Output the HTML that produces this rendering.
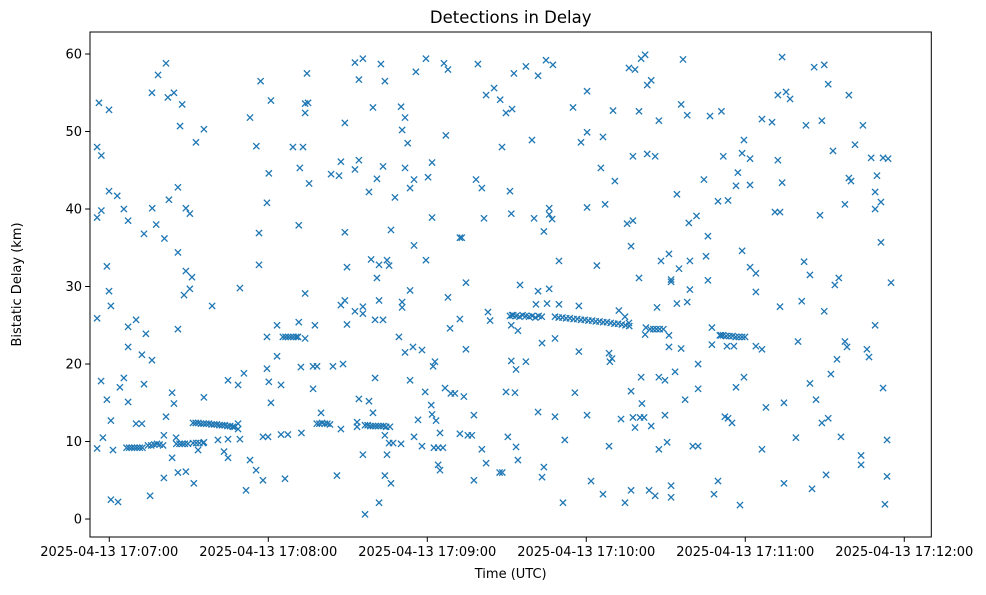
<!DOCTYPE html>
<html><head><meta charset="utf-8"><style>
body{margin:0;background:#fff;font-family:"Liberation Sans","DejaVu Sans",sans-serif}
svg text{font-family:"DejaVu Sans","Liberation Sans",sans-serif;fill:#000}
</style></head><body>
<svg id="chart" width="986" height="590" xmlns="http://www.w3.org/2000/svg">
<rect width="986" height="590" fill="#fff"/>
<text x="510.7" y="23" font-size="16.5" text-anchor="middle">Detections in Delay</text>
<g id="marks"></g>
<rect x="90" y="32" width="841.3" height="505" fill="none" stroke="#000" stroke-width="1"/>
<g id="xaxis"></g>
<g id="yaxis"></g>
<text x="510.7" y="578" font-size="13" text-anchor="middle">Time (UTC)</text>
<text transform="translate(21,284.5) rotate(-90)" font-size="13" text-anchor="middle">Bistatic Delay (km)</text>
</svg>
<script>
// seconds after 2025-04-13 17:07:00
const xTickValues = [0, 60, 120, 180, 240, 300];
const xTickLabels = ["2025-04-13 17:07:00","2025-04-13 17:08:00","2025-04-13 17:09:00","2025-04-13 17:10:00","2025-04-13 17:11:00","2025-04-13 17:12:00"];
const yTickValues = [0, 10, 20, 30, 40, 50, 60];
const times = [
-3.9,-0.1,-4.6,-3.0,21.4,18.4,16.1,22.1,24.4,27.5,26.7,35.7,32.7,57.1,61.0,53.1,55.5,69.3,60.2,71.9,
-0.1,3.0,-3.0,-4.6,5.5,7.1,16.2,17.7,13.1,20.8,22.5,25.9,28.9,30.4,59.5,56.5,71.5,25.9,28.9,31.2,
30.4,28.2,38.8,49.3,56.5,-0.9,-0.1,0.6,-4.6,7.1,10.1,13.8,25.9,7.1,12.3,16.1,-3.1,4.0,5.5,13.1,
-0.9,7.1,23.7,24.4,35.7,44.8,48.6,50.8,59.5,60.2,64.8,63.3,59.5,63.3,71.5,72.3,61.0,0.6,-2.4,-4.6,
1.4,10.1,12.3,21.4,20.6,25.2,23.7,20.6,25.9,28.9,31.9,15.4,0.6,3.3,43.3,44.8,51.6,55.4,58.0,66.3,
53.1,41.0,44.8,49.3,58.0,59.9,64.8,67.4,72.5,33.5,35.7,48.6,48.6,
6.5,7.5,8.5,9.5,10.5,11.5,12.5,14.6,15.8,17,18,19,20.3,25.3,26.5,27.5,28.5,29.7,31.6,32.8,34,35.4,
31.6,32.6,33.6,34.6,35.6,36.6,37.6,38.6,39.6,40.6,41.6,42.6,43.6,44.6,45.6,46.6,47.3,
65.5,66.5,67.5,68.5,69.5,70.5,71.2,
74.6,73.9,75.0,73.9,73.1,75.4,92.7,95.7,94.2,102.5,104.0,99.5,110.1,111.6,110.5,112.6,88.9,115.7,119.5,126.3,
127.8,139.1,142.2,145.2,147.5,149.7,152.0,152.7,148.2,127.0,87.4,94.2,92.7,83.7,86.7,101.0,103.3,111.6,115.0,113.5,
120.3,121.8,98.0,107.8,138.4,140.6,151.2,151.7,141.4,121.8,88.9,106.3,115.0,119.5,132.3,133.0,98.8,101.8,104.8,105.6,
101.0,89.7,73.9,113.5,134.6,127.8,87.4,88.9,92.7,95.7,95.7,101.8,100.3,103.3,110.5,110.5,77.6,89.7,73.9,109.3,
111.6,114.6,118.0,122.9,122.2,128.6,132.3,134.6,142.9,143.7,152.0,151.7,76.9,78.4,84.4,88.2,100.3,113.5,76.9,94.2,
98.0,99.5,79.9,87.4,93.5,93.5,119.2,121.5,121.8,123.3,124.8,116.5,115.0,118.0,126.7,128.9,130.4,133.8,137.6,149.7,
151.7,132.3,135.3,136.8,140.6,142.2,150.4,124.1,124.8,122.5,124.1,125.9,95.7,104.8,104.0,105.6,107.1,110.1,85.9,104.0,
106.3,137.6,101.8,96.5,147.3,148.3,
78.3,79.3,80.3,81.3,82.3,83.3,
96.5,97.5,98.5,99.5,100.5,101.5,102.5,103.5,104.5,105.9,
157.2,161.8,164.8,167.4,180.3,175.0,159.5,178.0,180.3,186.3,190.1,196.1,198.4,200.7,202.2,203.0,204.5,216.5,215.8,218.1,
226.7,231.0,199.9,207.4,197.6,203.0,206.0,185.5,190.8,160.3,166.0,166.0,167.1,164.0,180.3,187.1,195.4,197.6,196.9,214.2,
224.4,218.7,221.6,225.9,229.7,231.7,169.7,184.0,199.9,208.2,211.2,215.0,212.0,212.0,219.1,225.2,225.9,219.1,214.2,218.1,
206.7,155.0,161.8,166.0,165.2,169.7,177.2,161.0,192.3,194.6,196.1,202.5,202.2,211.2,227.4,227.4,230.8,211.2,215.8,222.2,
154.2,163.3,168.2,177.2,188.6,189.7,188.9,157.2,153.5,153.1,175.7,196.9,200.7,201.0,207.4,209.7,213.5,217.3,222.2,161.8,
168.2,180.3,193.1,197.6,200.3,201.8,198.4,204.5,209.7,232.3,171.9,153.5,154.2,164.0,163.3,188.6,207.4,210.5,220.2,222.2,
181.8,186.3,171.2,194.6,196.9,203.7,206.0,212.0,212.0,228.2,229.7,
151.2,152.4,153.6,154.8,156,157.2,158.4,159.6,160.8,162,163.2,
168.2,169.6,171,172.4,173.8,175.2,176.6,178,179.4,180.8,182.2,183.6,185,186.4,187.8,189.2,190.6,192,193.4,194.8,196.2,
204.1,205.3,206.5,207.7,209.1,
253.9,266.0,269.8,271.3,252.3,255.4,256.9,279.1,246.3,250.1,262.9,268.9,284.4,239.5,238.8,241.8,252.3,273.1,281.4,287.5,
292.0,293.9,237.2,236.5,241.8,253.9,279.1,279.9,289.7,289.0,291.2,289.0,277.6,268.2,233.5,251.2,253.1,291.2,238.8,241.8,
244.0,244.0,262.2,264.4,275.3,273.8,295.0,253.1,261.3,269.8,289.0,259.9,277.6,278.4,285.9,286.7,274.6,272.3,264.4,292.0,
236.5,239.5,233.5,235.0,247.8,254.6,266.7,268.9,271.3,246.3,259.1,276.1,293.5,283.7,283.7,254.6,265.2,270.5,293.5,238.0,
292.7,233.1,235.7,244.0,246.3,
230.4,231.6,232.8,234,235.2,236.4,237.6,238.8,239.9
];
const delays = [
53.7,52.8,48.0,46.9,58.8,57.3,55.0,54.4,55.0,53.5,50.7,50.3,48.6,56.5,54.0,51.8,48.1,48.0,44.6,45.3,
42.3,41.7,39.8,38.9,40.0,38.5,40.1,38.0,36.8,36.2,41.2,42.8,40.1,39.4,40.8,36.9,37.9,34.4,32.0,31.2,
29.7,28.9,27.5,29.8,32.8,32.6,29.4,27.5,25.9,24.8,25.7,23.9,24.5,22.2,21.2,20.5,17.8,17.0,18.2,17.4,
15.4,15.1,16.3,14.9,15.7,17.9,17.3,18.8,19.4,17.7,17.3,21.0,23.5,25.0,25.4,19.6,15.0,12.7,10.5,9.1,
8.9,12.3,12.3,13.2,10.8,10.5,7.9,5.3,6.0,6.1,4.6,3.0,2.5,2.2,8.7,7.9,3.7,6.3,5.0,5.2,
7.6,10.2,10.3,10.3,10.6,10.6,10.9,10.9,11.1,8.9,9.9,12.3,11.6,
9.2,9.2,9.2,9.2,9.2,9.2,9.2,9.5,9.5,9.6,9.7,9.6,9.5,9.7,9.7,9.7,9.7,9.7,9.8,9.8,9.8,9.8,
12.4,12.4,12.4,12.3,12.3,12.3,12.3,12.2,12.2,12.2,12.1,12.1,12.1,12.0,12.0,11.9,11.9,
23.5,23.5,23.5,23.5,23.5,23.5,23.5,
57.5,53.6,53.7,52.4,48.0,43.3,58.9,59.4,56.7,58.7,56.5,53.1,53.2,51.8,50.2,48.5,51.1,57.7,59.4,58.8,
58.0,58.7,54.7,55.6,54.1,52.4,52.9,57.5,48.0,49.5,46.1,46.3,45.1,44.5,44.3,43.9,45.5,45.3,43.8,42.7,
44.1,46.0,42.2,41.5,43.8,42.7,42.3,39.4,38.8,38.9,37.0,37.3,35.3,33.4,36.3,36.3,33.5,32.8,33.4,32.7,
31.1,32.5,29.1,29.5,30.5,28.6,27.6,28.2,26.8,27.4,26.5,28.2,25.7,25.7,28.0,27.3,25.0,25.1,23.3,23.5,
21.5,22.2,21.8,20.3,19.7,24.6,25.8,21.9,26.7,25.6,26.3,25.0,19.7,19.7,19.7,20.0,18.2,17.9,16.8,15.5,
15.2,13.7,13.7,11.6,12.5,11.9,16.4,14.7,13.5,12.7,11.1,12.8,10.6,9.4,16.9,16.2,16.2,15.8,13.4,16.4,
20.4,11.0,10.8,10.8,9.0,7.2,10.6,7.0,6.3,9.2,9.2,9.2,8.3,8.3,10.8,9.8,9.8,9.7,5.6,5.6,
4.6,5.0,2.1,0.6,6.0,6.0,
12.3,12.3,12.4,12.3,12.3,12.2,
12.1,12.1,12.0,12.0,12.0,12.0,12.0,12.0,11.9,11.9,
58.4,57.2,59.2,58.6,55.2,53.1,48.9,48.6,49.9,49.3,52.7,58.2,58.0,59.4,59.9,56.0,56.6,59.3,53.5,52.1,
52.0,52.6,52.6,51.4,46.8,47.1,46.8,45.3,43.6,38.8,40.1,39.3,38.7,37.1,40.2,40.6,38.1,38.5,35.2,41.9,
43.8,38.2,39.1,36.5,41.0,46.8,33.3,32.7,31.1,33.3,34.2,32.3,30.9,30.6,33.3,33.9,30.8,29.6,27.8,28.0,
27.3,30.2,29.4,29.7,27.8,27.7,27.5,27.7,26.9,26.1,25.3,24.7,23.8,23.7,24.7,22.5,23.7,22.2,22.0,20.0,
24.3,22.7,23.3,21.6,21.4,20.7,20.3,20.3,19.3,16.3,16.3,16.5,18.3,14.9,18.3,17.9,19.0,15.4,16.8,13.8,
13.2,13.4,12.9,13.1,13.1,13.1,11.8,12.0,13.4,13.2,10.2,9.3,7.6,6.7,5.4,9.4,9.0,9.9,9.4,9.4,
4.9,3.2,2.1,2.1,3.7,3.7,3.0,4.3,2.8,3.2,4.9,
26.2,26.3,26.2,26.1,26.3,26.2,26.1,26.2,26.0,26.2,26.1,
26.1,26.0,26.0,25.9,25.9,25.8,25.8,25.7,25.7,25.6,25.6,25.5,25.5,25.4,25.4,25.3,25.2,25.2,25.1,25.0,24.9,
24.5,24.5,24.5,24.5,24.5,
59.6,58.3,58.6,56.1,54.7,55.1,54.2,54.7,51.6,51.2,50.8,51.4,50.8,48.9,47.2,46.5,46.3,47.5,48.3,46.6,
46.6,46.5,44.7,43.0,43.1,43.4,44.0,43.6,44.3,42.2,40.9,40.0,40.6,39.2,41.1,39.6,39.6,35.7,34.6,32.5,
31.7,29.3,33.2,31.5,31.1,30.2,30.5,27.4,28.1,26.8,25.0,22.9,22.9,22.2,21.9,20.9,20.6,18.7,17.5,16.9,
17.0,18.3,13.0,12.4,14.4,15.0,15.4,12.4,13.0,9.0,10.5,10.6,10.2,8.2,7.0,4.6,3.9,5.7,5.5,1.8,
1.9,22.3,22.3,22.3,21.9,
23.7,23.7,23.6,23.6,23.6,23.5,23.5,23.5,23.5
];
const NS = "http://www.w3.org/2000/svg";
const X0 = 90, X1 = 931.3, Y0 = 32, Y1 = 537;
const xMin = -7.28, xMax = 310.2, yMin = -2.32, yMax = 62.84;
function xScale(v){ return X0 + (v - xMin) / (xMax - xMin) * (X1 - X0); }
function yScale(v){ return Y1 - (v - yMin) / (yMax - yMin) * (Y1 - Y0); }
function mk(tag, attrs){ const e = document.createElementNS(NS, tag); for (const k in attrs) e.setAttribute(k, attrs[k]); return e; }
const marks = document.getElementById('marks');
const r = 3.1;
for (let i = 0; i < times.length; i++) {
  const cx = xScale(times[i]), cy = yScale(delays[i]);
  const p = mk('path', {d:`M${cx-r},${cy-r}L${cx+r},${cy+r}M${cx-r},${cy+r}L${cx+r},${cy-r}`, stroke:'#1f77b4', 'stroke-width':'1.3', fill:'none'});
  
  
  marks.appendChild(p);
}
const xa = document.getElementById('xaxis');
for (let i = 0; i < xTickValues.length; i++) {
  const x = xScale(xTickValues[i]);
  const t = mk('line', {x1:x, x2:x, y1:Y1, y2:Y1+4.9, stroke:'#000', 'stroke-width':'1'});
  
  
  xa.appendChild(t);
  const l = mk('text', {x:x, y:Y1+19, 'font-size':'13', 'text-anchor':'middle'});
  
  
  l.textContent = xTickLabels[i];
  xa.appendChild(l);
}
const ya = document.getElementById('yaxis');
for (let i = 0; i < yTickValues.length; i++) {
  const y = yScale(yTickValues[i]);
  const t = mk('line', {x1:X0-4.9, x2:X0, y1:y, y2:y, stroke:'#000', 'stroke-width':'1'});
  
  
  ya.appendChild(t);
  const l = mk('text', {x:X0-8, y:y+4.6, 'font-size':'13', 'text-anchor':'end'});
  
  
  l.textContent = yTickValues[i];
  ya.appendChild(l);
}
</script>
</body></html>
